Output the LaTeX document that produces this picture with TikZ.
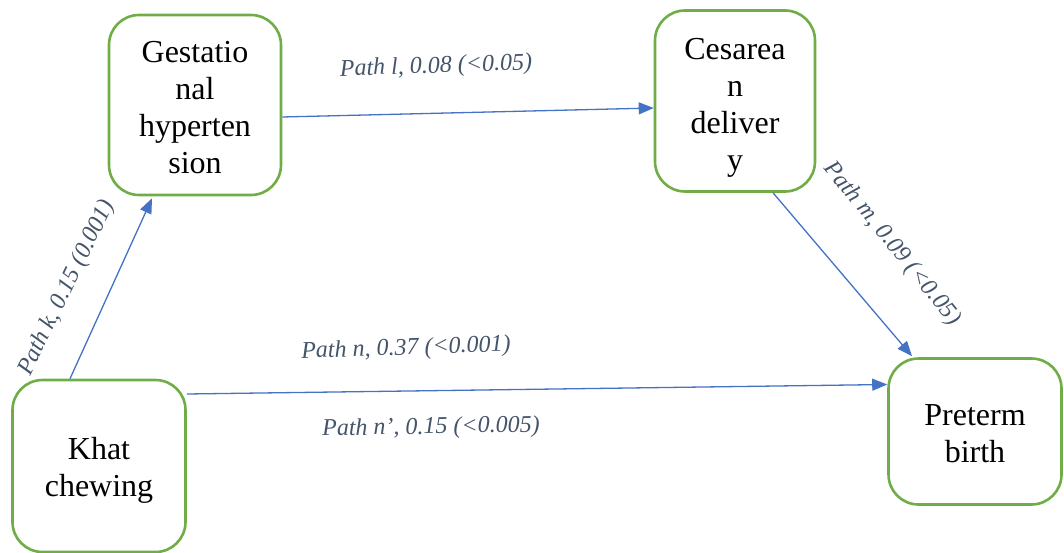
\documentclass[tikz,border=0pt]{standalone}
\usepackage{fontspec}
\setmainfont{Liberation Serif}
\usetikzlibrary{arrows.meta}
\definecolor{boxgreen}{HTML}{70AD47}
\definecolor{arrowblue}{HTML}{4472C4}
\definecolor{labelgray}{HTML}{44546A}
\tikzset{
  var/.style={draw=boxgreen, line width=2.6pt, rounded corners=30pt, fill=white, inner sep=0pt},
  vartext/.style={align=center, inner sep=0pt, font=\fontsize{32}{37}\selectfont},
  arr/.style={draw=arrowblue, line width=1.3pt,
    -{Triangle[length=15pt,width=12pt]}},
  pathlabel/.style={text=labelgray, font=\fontsize{24}{28}\selectfont\itshape, inner sep=0pt}
}
\begin{document}
\begin{tikzpicture}[x=1pt,y=-1pt]
\useasboundingbox (0,0) rectangle (1064,553);

% variables: box outlines
\node[var, minimum width=172pt, minimum height=180pt] (gest) at (195,105) {};
\node[var, minimum width=160pt, minimum height=181pt] (ces) at (735,101) {};
\node[var, minimum width=173pt, minimum height=172pt] (khat) at (99,466) {};
\node[var, minimum width=173pt, minimum height=146pt] (pre) at (975,431.5) {};

% variables: names, wrapped as in the box width
\node[vartext] (gesttext) at ([yshift=-2.5pt]gest.center) {Gestatio\\nal\\hyperten\\sion};
\node[vartext] (cestext) at ([yshift=-7pt]ces.center) {Cesarea\\n\\deliver\\y};
\node[vartext] (khattext) at ([yshift=-4pt]khat.center) {Khat\\chewing};
\node[vartext] (pretext) at ([yshift=-2pt]pre.center) {Preterm\\birth};

% paths
\draw[arr] ([xshift=-29pt]khat.north) -- ([xshift=-43pt,yshift=-2pt]gest.south);
\draw[arr] ([yshift=-12pt]gest.east) -- ([yshift=-7pt]ces.west);
\draw[arr] ([xshift=38pt]ces.south) -- ([xshift=-63pt,yshift=1pt]pre.north);
\draw[arr] ([yshift=72pt]khat.east) -- ([yshift=47pt]pre.west);

% path coefficients
\node[pathlabel, rotate=64] (lk) at (67,288) {Path k, 0.15 (0.001)};
\node[pathlabel, rotate=2] (ll) at (436,67) {Path l, 0.08 (<0.05)};
\node[pathlabel, rotate=-51] (lm) at (892,244) {Path m, 0.09 (<0.05)};
\node[pathlabel, rotate=2] (ln) at (406,349) {Path n, 0.37 (<0.001)};
\node[pathlabel, rotate=1] (lnp) at (431,428) {Path n’, 0.15 (<0.005)};
\end{tikzpicture}
\end{document}
